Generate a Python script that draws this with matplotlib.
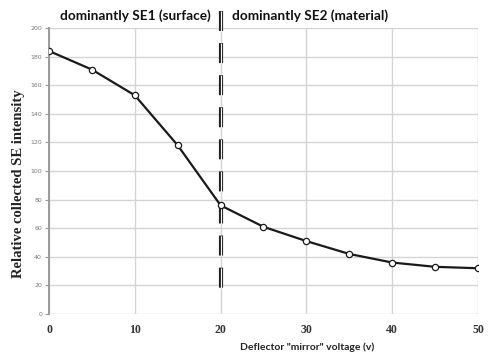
import matplotlib.pyplot as plt

# deflector voltage vs relative SE intensity
voltage = [0, 5, 10, 15, 20, 25, 30, 35, 40, 45, 50]
intensity = [184, 171, 153, 118, 76, 61, 51, 42, 36, 33, 32]
x_ticks = [0, 10, 20, 30, 40, 50]
y_ticks = [0, 20, 40, 60, 80, 100, 120, 140, 160, 180, 200]
split_voltage = 20

fig = plt.figure(figsize=(4.9, 3.56), dpi=100)
ax = fig.add_axes([0.1, 0.118, 0.8755, 0.803])

ax.set_xlim(0, 50)
ax.set_ylim(0, 200)
ax.set_xticks(x_ticks)
ax.set_yticks(y_ticks)
ax.grid(True, color='#d4d4d4', linewidth=1.0)
ax.set_axisbelow(True)

for s in ['top', 'right', 'bottom']:
    ax.spines[s].set_visible(False)
ax.spines['left'].set_color('#9a9a9a')
ax.spines['left'].set_linewidth(1.4)

ax.tick_params(axis='y', length=3, width=0.8, color='#9a9a9a', labelsize=4.5,
               labelcolor='#777777', pad=2)
ax.tick_params(axis='x', length=0, labelsize=8.5, labelcolor='#333333', pad=7)
for lab in ax.get_xticklabels():
    lab.set_fontfamily('Liberation Serif')
    lab.set_fontweight('bold')

# dashed double divider
ax.plot([split_voltage, split_voltage], [212, 14], color='#222222', lw=3.0,
        linestyle=(0, (4.8, 2.9)), clip_on=False, zorder=3)
ax.plot([split_voltage, split_voltage], [212, 14], color='white', lw=0.8,
        linestyle=(0, (18, 10.9)), clip_on=False, zorder=3)

ax.plot(voltage, intensity, color='#1a1a1a', lw=1.6, marker='o', markersize=4.5,
        markerfacecolor='white', markeredgecolor='#1a1a1a', markeredgewidth=0.9,
        zorder=4)

fig.text(0.276, 0.957, 'dominantly SE1 (surface)', ha='center', va='center',
         fontsize=9.8, fontweight='bold', fontfamily='Lato', color='#111111')
fig.text(0.633, 0.957, 'dominantly SE2 (material)', ha='center', va='center',
         fontsize=9.8, fontweight='bold', fontfamily='Lato', color='#111111')

fig.text(0.627, 0.025, 'Deflector "mirror" voltage (v)', ha='center', va='center',
         fontsize=7.5, fontweight='bold', fontfamily='Lato', color='#222222')
fig.text(0.037, 0.483, 'Relative collected SE intensity', ha='center', va='center',
         rotation=90, fontsize=10.5, fontweight='bold',
         fontfamily='Liberation Serif', color='#222222')

fig.savefig('out.png', dpi=100, facecolor='white')
